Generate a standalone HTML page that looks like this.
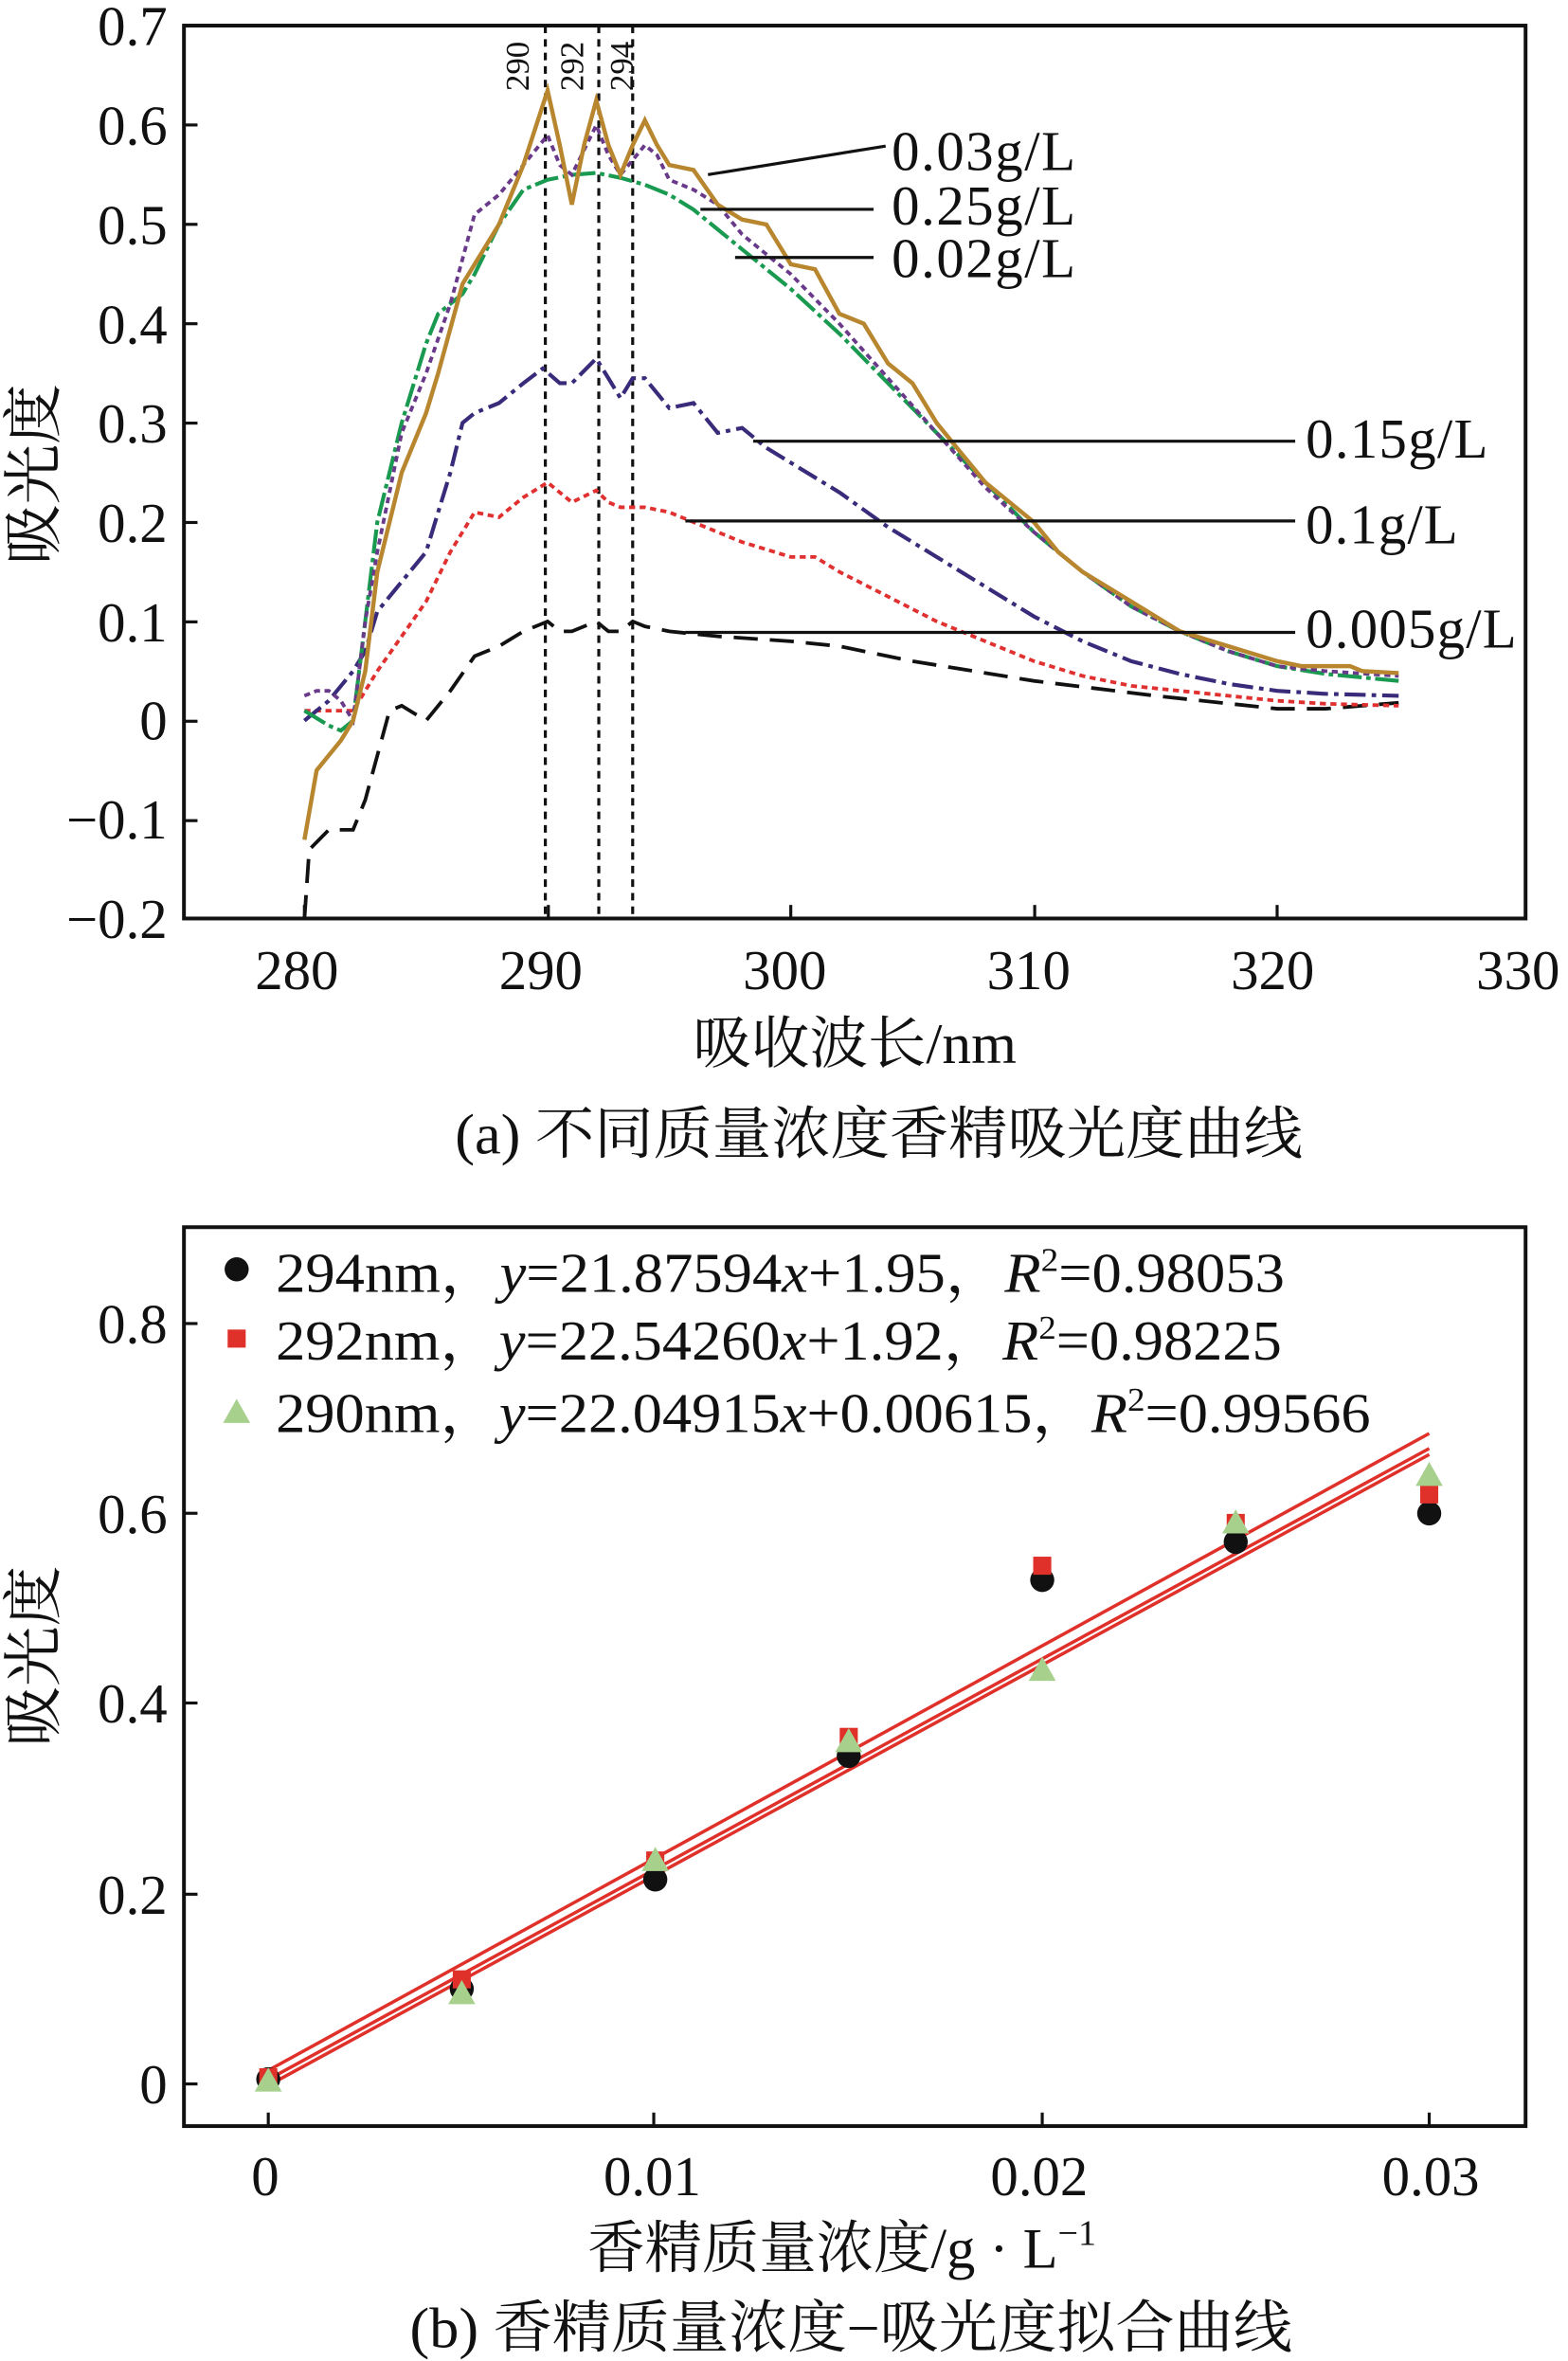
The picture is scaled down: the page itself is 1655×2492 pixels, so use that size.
<!DOCTYPE html>
<html><head><meta charset="utf-8">
<style>
html,body{margin:0;padding:0;background:#fff;}
svg{display:block;}
text{font-family:"Liberation Serif","Noto Serif CJK SC",serif;fill:#111;}
.cj{font-family:"Liberation Serif","Noto Serif CJK SC",serif;}
</style></head>
<body>
<svg id="s" width="1655" height="2492" viewBox="0 0 1041 1568" xmlns="http://www.w3.org/2000/svg">
<g id="a">
<rect x="122" y="17" width="891" height="593" fill="none" stroke="#111" stroke-width="2.5"/>
<g font-size="37" text-anchor="end">
<text x="111" y="30">0.7</text><text x="111" y="96">0.6</text><text x="111" y="162">0.5</text>
<text x="111" y="228">0.4</text><text x="111" y="294">0.3</text><text x="111" y="360">0.2</text>
<text x="111" y="426">0.1</text><text x="111" y="491">0</text><text x="111" y="557">−0.1</text>
<text x="111" y="623">−0.2</text>
</g>
<g stroke="#111" stroke-width="2">
<line x1="122" y1="83" x2="131" y2="83"/><line x1="122" y1="149" x2="131" y2="149"/><line x1="122" y1="215" x2="131" y2="215"/>
<line x1="122" y1="281" x2="131" y2="281"/><line x1="122" y1="347" x2="131" y2="347"/><line x1="122" y1="413" x2="131" y2="413"/>
<line x1="122" y1="479" x2="131" y2="479"/><line x1="122" y1="545" x2="131" y2="545"/>
<line x1="202" y1="610" x2="202" y2="601"/><line x1="364" y1="610" x2="364" y2="601"/><line x1="525" y1="610" x2="525" y2="601"/>
<line x1="687" y1="610" x2="687" y2="601"/><line x1="848" y1="610" x2="848" y2="601"/>
</g>
<g font-size="37" text-anchor="middle">
<text x="197" y="657">280</text><text x="359" y="657">290</text><text x="521" y="657">300</text>
<text x="683" y="657">310</text><text x="845" y="657">320</text><text x="1008" y="657">330</text>
</g>
<text class="cj" font-size="40" text-anchor="middle" transform="translate(36,315) rotate(-90)" textLength="120" lengthAdjust="spacingAndGlyphs">吸光度</text>
<text class="cj" font-size="38" x="460" y="706" textLength="215" lengthAdjust="spacingAndGlyphs">吸收波长/nm</text>
<text class="cj" font-size="38" x="302" y="766" textLength="563" lengthAdjust="spacingAndGlyphs">(a) 不同质量浓度香精吸光度曲线</text>
<g stroke="#111" stroke-width="2" stroke-dasharray="5,4">
<line x1="362" y1="17" x2="362" y2="610"/><line x1="397.5" y1="17" x2="397.5" y2="610"/><line x1="420" y1="17" x2="420" y2="610"/>
</g>
<g font-size="22" text-anchor="middle">
<text transform="translate(351,44) rotate(-90)">290</text>
<text transform="translate(387,44) rotate(-90)">292</text>
<text transform="translate(420,44) rotate(-90)">294</text>
</g>
<g id="curves" fill="none" stroke-width="2.6"></g>
<g stroke="#111" stroke-width="2">
<line x1="470" y1="116" x2="588" y2="97"/>
<line x1="465" y1="139" x2="580" y2="139"/>
<line x1="488" y1="171" x2="580" y2="171"/>
<line x1="500" y1="293" x2="860" y2="293"/>
<line x1="455" y1="346" x2="860" y2="346"/>
<line x1="455" y1="420" x2="860" y2="420"/>
</g>
<g font-size="37" lengthAdjust="spacingAndGlyphs">
<text x="592" y="113" textLength="122">0.03g/L</text><text x="592" y="149" textLength="122">0.25g/L</text><text x="592" y="184" textLength="122">0.02g/L</text>
<text x="867" y="304" textLength="121">0.15g/L</text><text x="867" y="361" textLength="101">0.1g/L</text><text x="867" y="430" textLength="140">0.005g/L</text>
</g>
</g>
<g id="b">
<rect x="122" y="815" width="891" height="597" fill="none" stroke="#111" stroke-width="2.5"/>
<g font-size="37" text-anchor="end">
<text x="111" y="892">0.8</text><text x="111" y="1018">0.6</text><text x="111" y="1144">0.4</text>
<text x="111" y="1271">0.2</text><text x="111" y="1397">0</text>
</g>
<g stroke="#111" stroke-width="2">
<line x1="122" y1="879" x2="131" y2="879"/><line x1="122" y1="1005" x2="131" y2="1005"/><line x1="122" y1="1131" x2="131" y2="1131"/>
<line x1="122" y1="1258" x2="131" y2="1258"/><line x1="122" y1="1384" x2="131" y2="1384"/>
<line x1="178" y1="1412" x2="178" y2="1403"/><line x1="434" y1="1412" x2="434" y2="1403"/><line x1="692" y1="1412" x2="692" y2="1403"/><line x1="949" y1="1412" x2="949" y2="1403"/>
</g>
<g font-size="37" text-anchor="middle">
<text x="176" y="1458">0</text><text x="433" y="1458">0.01</text><text x="690" y="1458">0.02</text><text x="950" y="1458">0.03</text>
</g>
<text class="cj" font-size="40" text-anchor="middle" transform="translate(36,1100) rotate(-90)" textLength="120" lengthAdjust="spacingAndGlyphs">吸光度</text>
<text class="cj" font-size="38" x="390" y="1506">香精质量浓度/g · L<tspan font-size="24" dy="-15">−1</tspan></text>
<text class="cj" font-size="38" x="272" y="1559" textLength="586" lengthAdjust="spacingAndGlyphs">(b) 香精质量浓度−吸光度拟合曲线</text>
<g stroke="#e0302a" stroke-width="2.2">
<line x1="178" y1="1375" x2="949" y2="952"/>
<line x1="178" y1="1381" x2="949" y2="962"/>
<line x1="178" y1="1385" x2="949" y2="966"/>
</g>
<g id="pts"></g>
<circle cx="157" cy="843" r="8" fill="#111"/>
<rect x="151" y="883" width="12" height="12" fill="#e0302a"/>
<polygon points="157,929 148,945 166,945" fill="#a8d08d"/>
<g font-size="37">
<text x="183" y="858">294nm，<tspan font-style="italic">y</tspan>=21.87594<tspan font-style="italic">x</tspan>+1.95，<tspan font-style="italic">R</tspan><tspan font-size="22" dy="-14">2</tspan><tspan dy="14">=0.98053</tspan></text>
<text x="183" y="903">292nm，<tspan font-style="italic">y</tspan>=22.54260<tspan font-style="italic">x</tspan>+1.92，<tspan font-style="italic">R</tspan><tspan font-size="22" dy="-14">2</tspan><tspan dy="14">=0.98225</tspan></text>
<text x="183" y="951">290nm，<tspan font-style="italic">y</tspan>=22.04915<tspan font-style="italic">x</tspan>+0.00615，<tspan font-style="italic">R</tspan><tspan font-size="22" dy="-14">2</tspan><tspan dy="14">=0.99566</tspan></text>
</g>
</g>
</svg>
<script>
(function(){
var NS="http://www.w3.org/2000/svg";
function X(n){return 202+(n-280)*16.15;}
function Y(v){return 478.6-v*659;}
var series=[
{c:"#111",d:"16,8",w:2.4,p:[280,-0.2,280.2,-0.13,281,-0.11,282,-0.11,282.5,-0.08,283.5,0.01,284,0.015,285,0.0,286,0.03,287,0.065,288,0.075,289,0.09,290,0.1,290.5,0.09,291,0.09,292,0.1,292.5,0.09,293,0.09,293.5,0.1,294,0.095,295,0.09,297,0.085,300,0.08,302,0.075,305,0.06,310,0.04,315,0.025,320,0.012,322,0.012,325,0.018]},
{c:"#e03030",d:"4,3",w:2.4,p:[280,0.01,281,0.01,282,0.01,283,0.05,284,0.085,285,0.12,286,0.17,287,0.21,288,0.205,289,0.225,290,0.24,291,0.22,292,0.232,292.5,0.22,293,0.215,294,0.215,295,0.21,296,0.2,298,0.18,300,0.165,301,0.165,302,0.15,304,0.125,306,0.1,308,0.08,310,0.06,312,0.045,314,0.035,316,0.03,318,0.025,320,0.02,322,0.017,325,0.015]},
{c:"#3a2a7a",d:"14,4,3,4",w:2.6,p:[280,0.0,281,0.02,282,0.05,282.5,0.07,283,0.11,284,0.14,285,0.17,285.5,0.21,286,0.25,286.5,0.3,287,0.31,288,0.32,289,0.34,289.8,0.355,290.5,0.34,291,0.34,292,0.365,292.5,0.345,293,0.325,293.5,0.345,294,0.345,294.5,0.33,295,0.315,296,0.32,297,0.29,298,0.295,299,0.275,300,0.26,302,0.23,304,0.195,306,0.165,308,0.135,310,0.105,312,0.08,314,0.06,316,0.047,318,0.037,320,0.03,322,0.027,325,0.025]},
{c:"#1a9a50",d:"16,3,3,3",w:2.6,p:[280,0.01,281,-0.005,281.5,-0.01,282,0.0,282.5,0.1,283,0.2,284,0.3,285,0.38,285.5,0.41,286.5,0.43,287,0.45,288,0.5,289,0.535,290,0.545,291,0.55,292,0.552,293,0.547,294,0.54,295,0.53,296,0.515,298,0.475,300,0.435,302,0.39,304,0.34,306,0.29,308,0.24,310,0.19,312,0.15,314,0.115,316,0.09,318,0.07,320,0.055,322,0.047,325,0.04]},
{c:"#6a3a8a",d:"4,3",w:2.4,p:[280,0.025,280.5,0.03,281,0.03,281.5,0.02,282,0.0,282.5,0.1,283,0.17,284,0.29,285,0.35,286,0.42,287,0.51,288,0.53,289,0.56,290,0.59,290.5,0.56,291,0.55,292,0.6,292.5,0.57,293,0.55,293.5,0.565,294,0.58,294.5,0.57,295,0.545,296,0.535,297,0.52,298,0.49,300,0.45,302,0.4,304,0.345,306,0.29,308,0.235,310,0.19,312,0.15,314,0.115,316,0.09,318,0.07,320,0.055,322,0.05,325,0.045]},
{c:"#b8862e",d:"",w:2.8,p:[280,-0.12,280.5,-0.05,281.5,-0.02,282,0.0,282.5,0.05,283,0.15,284,0.25,285,0.31,285.5,0.35,286.5,0.44,288,0.5,289,0.56,290,0.635,290.5,0.58,291,0.52,291.5,0.58,292,0.625,292.5,0.58,293,0.55,293.5,0.58,294,0.605,294.5,0.58,295,0.56,296,0.555,297,0.52,298,0.505,299,0.5,300,0.46,301,0.455,302,0.41,303,0.4,304,0.36,305,0.34,306,0.3,307,0.27,308,0.24,310,0.2,311,0.17,312,0.15,314,0.12,316,0.09,318,0.075,320,0.06,321,0.055,322,0.055,323,0.055,323.5,0.05,325,0.048]}
];
var g=document.getElementById("curves");
series.forEach(function(s){
 var d="";for(var i=0;i<s.p.length;i+=2){d+=(i?"L":"M")+X(s.p[i]).toFixed(1)+","+Y(s.p[i+1]).toFixed(1);}
 var e=document.createElementNS(NS,"path");e.setAttribute("d",d);e.setAttribute("stroke",s.c);e.setAttribute("stroke-width",s.w);
 if(s.d)e.setAttribute("stroke-dasharray",s.d);g.appendChild(e);
});
var pg=document.getElementById("pts");
function BX(c){return 178+c*25700;} function BY(v){return 1384-v*631.5;}
var xs=[0,0.005,0.01,0.015,0.02,0.025,0.03];
var b=[0.005,0.1,0.215,0.345,0.53,0.57,0.6],r=[0.007,0.11,0.235,0.365,0.545,0.59,0.62],t=[0.003,0.095,0.235,0.36,0.435,0.59,0.64];
xs.forEach(function(x,i){
 var c=document.createElementNS(NS,"circle");c.setAttribute("cx",BX(x));c.setAttribute("cy",BY(b[i]));c.setAttribute("r",8);c.setAttribute("fill","#111");pg.appendChild(c);
 var q=document.createElementNS(NS,"rect");q.setAttribute("x",BX(x)-6);q.setAttribute("y",BY(r[i])-6);q.setAttribute("width",12);q.setAttribute("height",12);q.setAttribute("fill","#e0302a");pg.appendChild(q);
 var px=BX(x),py=BY(t[i]);var tr=document.createElementNS(NS,"polygon");tr.setAttribute("points",px+","+(py-9)+" "+(px-9)+","+(py+7)+" "+(px+9)+","+(py+7));tr.setAttribute("fill","#a8d08d");pg.appendChild(tr);
});
var legs=document.querySelectorAll("#b > g:last-of-type text");var L=[670,668,727];
legs.forEach(function(el,i){el.setAttribute("textLength",L[i]);el.setAttribute("lengthAdjust","spacingAndGlyphs");});
})();
</script>
</body></html>
